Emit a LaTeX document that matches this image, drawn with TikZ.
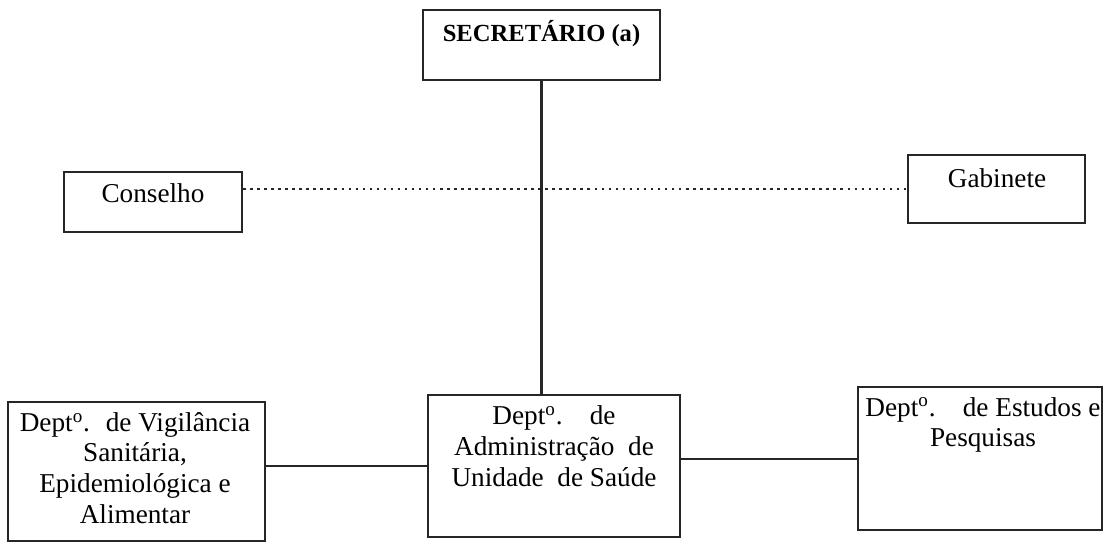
\documentclass[tikz,border=0pt]{standalone}
\usepackage{fontspec}
\setmainfont{Liberation Serif}
\usetikzlibrary{positioning}
\tikzset{orgbox/.style={rectangle,draw=black!85,line width=0.45mm,inner sep=0pt},
  orgtext/.style={draw=none,inner sep=1pt,align=center,font=\fontsize{15.5}{17.5}\selectfont},
  orgline/.style={-,draw=black!85,line width=0.4mm}}
\newcommand{\Dept}{Dept\textsuperscript{o}.}

\begin{document}
\begin{tikzpicture}[x=0.02cm,y=-0.02cm]
\useasboundingbox (0,0) rectangle (1112,544);
% \draw[help lines,step=100] (0,0) grid (1112,544);
\node (sec) [orgbox,minimum width=4.74cm,minimum height=1.4cm] at (541.5,45) {};
\node (sect) [orgtext,font=\fontsize{14}{16}\selectfont\bfseries] at (541.5,34) {SECRET\'ARIO (a)};
\node (cons) [orgbox,minimum width=3.56cm,minimum height=1.2cm] at (153,202) {};
\node (const) [orgtext] at (153,193) {Conselho};
\node (gab) [orgbox,minimum width=3.54cm,minimum height=1.36cm] at (996.5,189) {};
\node (gabt) [orgtext] at (997,178) {Gabinete};
%
\node (vig) [orgbox,minimum width=5.14cm,minimum height=2.78cm] at (136.5,471.5) {};
\node (vigt) [orgtext] at (135,468) {\Dept~ de Vigil\^ancia\\Sanit\'aria,\\Epidemiol\'ogica e\\Alimentar};
\node (adm) [orgbox,minimum width=5.04cm,minimum height=2.84cm] at (554,466) {};
\node (admt) [orgtext] at (554,446) {\Dept\quad de\\Administra\c{c}\~ao~ de\\Unidade~ de Sa\'ude};
\node (est) [orgbox,minimum width=4.88cm,minimum height=2.86cm] at (980,458.5) {};
\node (estt) [orgtext] at (983,425) {\Dept\quad de Estudos e\\Pesquisas};
%
\path[orgline,line width=0.5mm] (sec.south) edge (sec.south |- adm.north);
\path[orgline,dash pattern=on 1.5pt off 2.5pt,line width=0.3mm] (cons.east |- gab.west) edge (gab.west);
\path[orgline] (adm.west -| vig.east) edge (adm.west);
\path[orgline] (est.west -| adm.east) edge (est.west);
\end{tikzpicture}
\end{document}
